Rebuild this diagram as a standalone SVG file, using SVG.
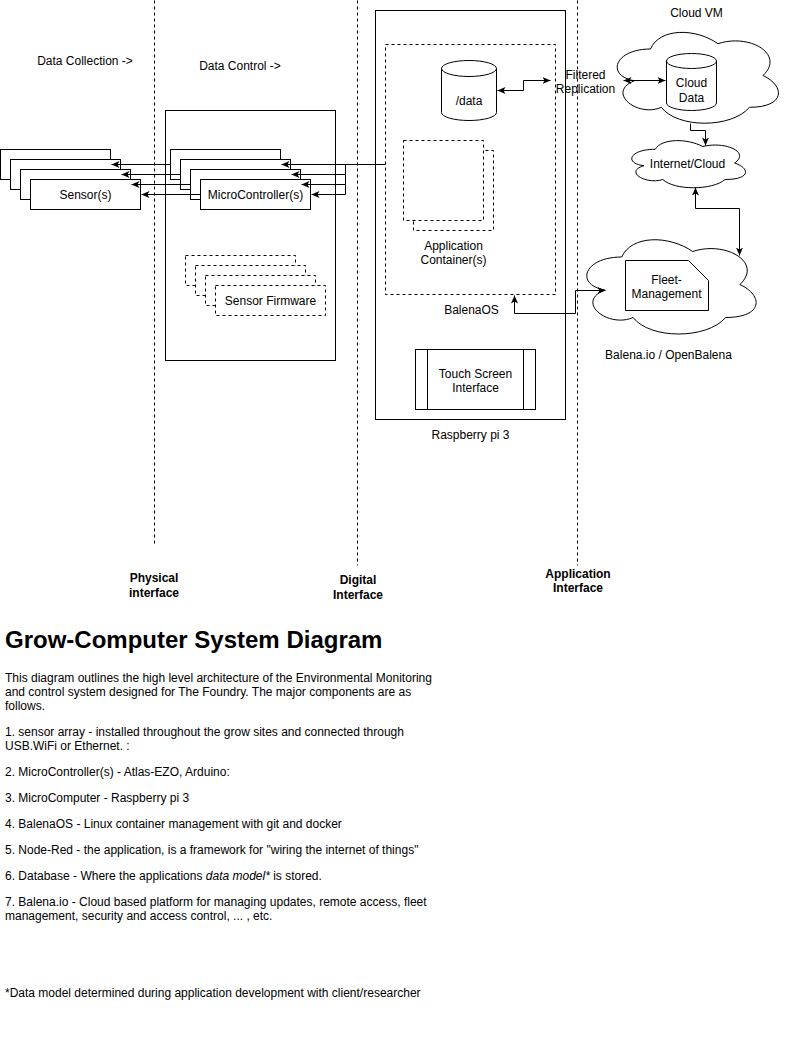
<svg xmlns="http://www.w3.org/2000/svg" width="789" height="1041" viewBox="0 0 789 1041">
<style>
.s{fill:#fff;stroke:#000;stroke-width:1}
.d{fill:#fff;stroke:#000;stroke-width:1;stroke-dasharray:3 3}
.dn{fill:none;stroke:#000;stroke-width:1;stroke-dasharray:3 3}
.n{fill:none;stroke:#000;stroke-width:1}
.e{fill:none;stroke:#000;stroke-width:1}
.t{font-family:"Liberation Sans",Arial,Helvetica,sans-serif;font-size:12px;fill:#000}
.c{text-anchor:middle}
.b{font-weight:bold}
</style>
<defs>
<marker id="ah" viewBox="0 0 8 7" refX="8" refY="3.5" markerWidth="8" markerHeight="7" markerUnits="userSpaceOnUse" orient="auto-start-reverse"><path d="M0,0 L8,3.5 L0,7 L2,3.5 Z" fill="#000"/></marker>
</defs>
<rect width="789" height="1041" fill="#fff"/>
<g transform="translate(0.5,0.5)">
<g id="boundaries">
<line class="dn" x1="154" y1="0" x2="154" y2="545"/>
<line class="dn" x1="357" y1="0" x2="357" y2="565"/>
<line class="dn" x1="577" y1="0" x2="577" y2="565"/>
</g>
<g id="sensors">
<rect class="s" x="0" y="149" width="110" height="30"/>
<rect class="s" x="10" y="159" width="110" height="30"/>
<rect class="s" x="20" y="169" width="110" height="30"/>
<rect class="s" x="30" y="179" width="110" height="30"/>
<text class="t c" x="85" y="198">Sensor(s)</text>
</g>
<g id="microcontroller-box">
<rect class="s" x="165" y="110" width="170" height="250"/>
</g>
<g id="microcontrollers">
<rect class="s" x="170" y="149" width="110" height="30"/>
<rect class="s" x="180" y="159" width="110" height="30"/>
<rect class="s" x="190" y="169" width="110" height="30"/>
<rect class="s" x="200" y="179" width="110" height="30"/>
<text class="t c" x="255" y="198">MicroController(s)</text>
</g>
<g id="sensor-firmware">
<rect class="d" x="185" y="255" width="110" height="30"/>
<rect class="d" x="195" y="265" width="110" height="30"/>
<rect class="d" x="205" y="275" width="110" height="30"/>
<rect class="d" x="215" y="285" width="110" height="30"/>
<text class="t c" x="270" y="304">Sensor Firmware</text>
</g>
<g id="raspberry-pi">
<rect class="s" x="375" y="10" width="190" height="409"/>
<text class="t c" x="470" y="438">Raspberry pi 3</text>
</g>
<g id="balenaos">
<rect class="d" x="385" y="44" width="170" height="250"/>
<text class="t c" x="471" y="313">BalenaOS</text>
</g>
<g id="data-db">
<path class="s" d="M441,68 A27.5,8 0 0 1 496,68 V112 A27.5,8 0 0 1 441,112 Z"/>
<path class="n" d="M441,68 A27.5,8 0 0 0 496,68"/>
<text class="t c" x="468.5" y="104">/data</text>
</g>
<g id="app-containers">
<rect class="d" x="413" y="150" width="80" height="80"/>
<rect class="d" x="403" y="140" width="80" height="80"/>
<text class="t c" x="453" y="249">Application</text>
<text class="t c" x="453" y="263">Container(s)</text>
</g>
<g id="touch-screen">
<rect class="s" x="415" y="349" width="120" height="60"/>
<line class="n" x1="427" y1="349" x2="427" y2="409"/>
<line class="n" x1="523" y1="349" x2="523" y2="409"/>
<text class="t c" x="475" y="377">Touch Screen</text>
<text class="t c" x="475" y="391">Interface</text>
</g>
<g id="filtered-replication">
<text class="t c" x="585" y="78">Filtered</text>
<text class="t c" x="585" y="92">Replication</text>
</g>
<g id="cloud-vm">
<path class="s" d="M650,48.5 C614,48.5 605,75 633.8,80.3 C605,91.96 637.4,117.4 660.8,106.8 C677,128 731,128 749,106.8 C785,106.8 785,85.6 762.5,75 C785,53.8 749,32.6 717.5,43.2 C695,27.3 659,27.3 650,48.5 Z"/>
<text class="t c" x="696" y="16">Cloud VM</text>
</g>
<g id="cloud-data">
<path class="s" d="M666,60.5 A25,7.5 0 0 1 716,60.5 V102.5 A25,7.5 0 0 1 666,102.5 Z"/>
<path class="n" d="M666,60.5 A25,7.5 0 0 0 716,60.5"/>
<text class="t c" x="691" y="86">Cloud</text>
<text class="t c" x="691" y="101">Data</text>
</g>
<g id="internet-cloud">
<path class="s" d="M654.75,148.75 C629.35,148.75 623,162.5 643.32,165.25 C623,171.3 645.86,184.5 662.37,179 C673.8,190 711.9,190 724.6,179 C750,179 750,168 734.125,162.5 C750,151.5 724.6,140.5 702.375,146 C686.5,137.75 661.1,137.75 654.75,148.75 Z"/>
<text class="t c" x="687" y="167">Internet/Cloud</text>
</g>
<g id="balena-cloud">
<path class="s" d="M621.25,256.5 C583.45,256.5 574,284 604.24,289.5 C574,301.6 608.02,328 632.59,317 C649.6,339 706.3,339 725.2,317 C763,317 763,295 739.375,284 C763,262 725.2,240 692.125,251 C668.5,234.5 630.7,234.5 621.25,256.5 Z"/>
<text class="t c" x="668" y="358">Balena.io / OpenBalena</text>
</g>
<g id="fleet-management">
<path class="s" d="M625,260 H688 L708,280 V310 H625 Z"/>
<text class="t c" x="666" y="283">Fleet-</text>
<text class="t c" x="666" y="297">Management</text>
</g>
<g id="connectors">
<path class="e" d="M170,164 H111" marker-end="url(#ah)"/>
<path class="e" d="M180,174 H121" marker-end="url(#ah)"/>
<path class="e" d="M190,184 H131" marker-end="url(#ah)"/>
<path class="e" d="M200,194 H141" marker-end="url(#ah)"/>
<path class="e" d="M385,164 H281" marker-end="url(#ah)"/>
<path class="e" d="M345,164 V174 H291" marker-end="url(#ah)"/>
<path class="e" d="M345,174 V184 H301" marker-end="url(#ah)"/>
<path class="e" d="M345,184 V194 H311" marker-end="url(#ah)"/>
<path class="e" d="M497,90 H523 V80 H550" marker-start="url(#ah)" marker-end="url(#ah)"/>
<path class="e" d="M623,80 H665" marker-start="url(#ah)" marker-end="url(#ah)"/>
<path class="e" d="M690,123 V130 H705 V145" marker-end="url(#ah)"/>
<path class="e" d="M695,187 V208 H739 V255" marker-start="url(#ah)" marker-end="url(#ah)"/>
<path class="e" d="M514,295 V313 H575 V290 H605" marker-start="url(#ah)" marker-end="url(#ah)"/>
</g>
</g>
<g id="labels">
<text class="t c" x="85" y="65">Data Collection -&gt;</text>
<text class="t c" x="240" y="70">Data Control -&gt;</text>
<text class="t c b" x="154" y="582">Physical</text>
<text class="t c b" x="154" y="597">interface</text>
<text class="t c b" x="358" y="584">Digital</text>
<text class="t c b" x="358" y="599">Interface</text>
<text class="t c b" x="578" y="578">Application</text>
<text class="t c b" x="578" y="592">Interface</text>
</g>
<g id="description">
<text class="t b" x="5" y="648" style="font-size:24px">Grow-Computer System Diagram</text>
<text class="t" x="5" y="681.5">This diagram outlines the high level architecture of the Environmental Monitoring</text>
<text class="t" x="5" y="695.5">and control system designed for The Foundry. The major components are as</text>
<text class="t" x="5" y="709.5">follows.</text>
<text class="t" x="5" y="735.5">1. sensor array - installed throughout the grow sites and connected through</text>
<text class="t" x="5" y="749.5">USB.WiFi or Ethernet. :</text>
<text class="t" x="5" y="775.5">2. MicroController(s) - Atlas-EZO, Arduino:</text>
<text class="t" x="5" y="801.5">3. MicroComputer - Raspberry pi 3</text>
<text class="t" x="5" y="827.5">4. BalenaOS - Linux container management with git and docker</text>
<text class="t" x="5" y="853.5">5. Node-Red - the application, is a framework for "wiring the internet of things"</text>
<text class="t" x="5" y="879.5">6. Database - Where the applications <tspan font-style="italic">data model*</tspan> is stored.</text>
<text class="t" x="5" y="905.5">7. Balena.io - Cloud based platform for managing updates, remote access, fleet</text>
<text class="t" x="5" y="919.5">management, security and access control, ... , etc.</text>
<text class="t" x="5" y="997">*Data model determined during application development with client/researcher</text>
</g>
</svg>
